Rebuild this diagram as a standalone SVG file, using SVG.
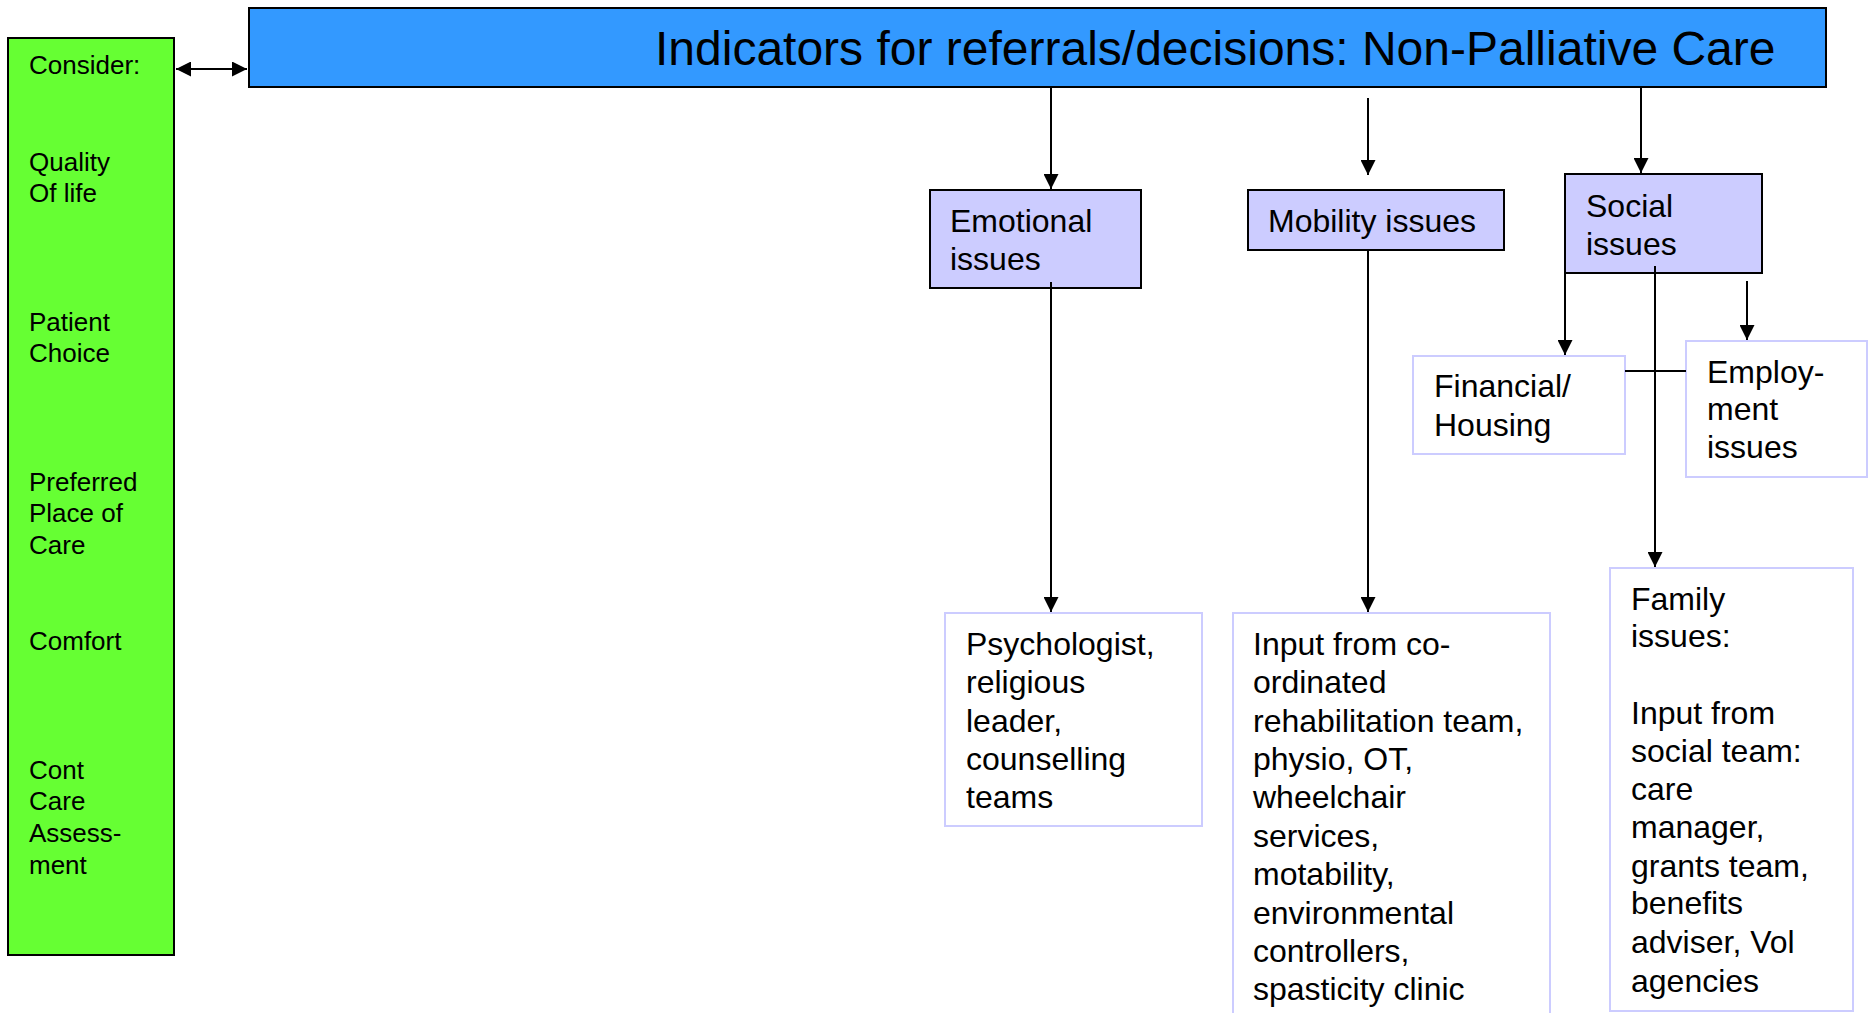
<svg xmlns="http://www.w3.org/2000/svg" width="1872" height="1013" viewBox="0 0 1872 1013">
<style>
text{font-family:"Liberation Sans",Arial,sans-serif;fill:#000}
.g{font-size:26px}
.m{font-size:32px}
.t{font-size:48px}
.dark{stroke:#000;stroke-width:2}
.light{fill:#fff;stroke:#ccccff;stroke-width:2}
.c{stroke:#000;stroke-width:2;fill:none}
</style>
<defs>
<marker id="ah" viewBox="0 0 10 10" refX="10" refY="5" markerWidth="15" markerHeight="15" markerUnits="userSpaceOnUse" orient="auto-start-reverse">
<path d="M0,0 L10,5 L0,10 z" fill="#000"/>
</marker>
</defs>
<rect width="1872" height="1013" fill="#fff"/>
<g id="consider">
<rect x="8" y="38" width="166" height="917" fill="#66ff33" class="dark" stroke-width="3"/>
<text class="g" x="29" y="74">Consider:</text>
<text class="g" x="29" y="171">Quality</text>
<text class="g" x="29" y="202">Of life</text>
<text class="g" x="29" y="331">Patient</text>
<text class="g" x="29" y="362">Choice</text>
<text class="g" x="29" y="491">Preferred</text>
<text class="g" x="29" y="522">Place of</text>
<text class="g" x="29" y="554">Care</text>
<text class="g" x="29" y="650">Comfort</text>
<text class="g" x="29" y="779">Cont</text>
<text class="g" x="29" y="810">Care</text>
<text class="g" x="29" y="842">Assess-</text>
<text class="g" x="29" y="874">ment</text>
</g>
<g id="title">
<rect x="249" y="8" width="1577" height="79" fill="#3399ff" class="dark"/>
<text class="t" x="655" y="65">Indicators for referrals/decisions: Non-Palliative Care</text>
</g>
<g id="emotional">
<rect x="930" y="190" width="211" height="98" fill="#ccccff" class="dark"/>
<text class="m" x="950" y="232">Emotional</text>
<text class="m" x="950" y="270">issues</text>
</g>
<g id="mobility">
<rect x="1248" y="190" width="256" height="60" fill="#ccccff" class="dark"/>
<text class="m" x="1268" y="232">Mobility issues</text>
</g>
<g id="social">
<rect x="1565" y="174" width="197" height="99" fill="#ccccff" class="dark"/>
<text class="m" x="1586" y="217">Social</text>
<text class="m" x="1586" y="255">issues</text>
</g>
<g id="financial">
<rect x="1413" y="356" width="212" height="98" class="light"/>
<text class="m" x="1434" y="397">Financial/</text>
<text class="m" x="1434" y="436">Housing</text>
</g>
<g id="employment">
<rect x="1686" y="341" width="181" height="136" class="light"/>
<text class="m" x="1707" y="383">Employ-</text>
<text class="m" x="1707" y="420">ment</text>
<text class="m" x="1707" y="458">issues</text>
</g>
<g id="psychologist">
<rect x="945" y="613" width="257" height="213" class="light"/>
<text class="m" x="966" y="655">Psychologist,</text>
<text class="m" x="966" y="693">religious</text>
<text class="m" x="966" y="732">leader,</text>
<text class="m" x="966" y="770">counselling</text>
<text class="m" x="966" y="808">teams</text>
</g>
<g id="rehab">
<rect x="1233" y="613" width="317" height="420" class="light"/>
<text class="m" x="1253" y="655">Input from co-</text>
<text class="m" x="1253" y="693">ordinated</text>
<text class="m" x="1253" y="732">rehabilitation team,</text>
<text class="m" x="1253" y="770">physio, OT,</text>
<text class="m" x="1253" y="808">wheelchair</text>
<text class="m" x="1253" y="847">services,</text>
<text class="m" x="1253" y="885">motability,</text>
<text class="m" x="1253" y="924">environmental</text>
<text class="m" x="1253" y="962">controllers,</text>
<text class="m" x="1253" y="1000">spasticity clinic</text>
</g>
<g id="family">
<rect x="1610" y="568" width="243" height="443" class="light"/>
<text class="m" x="1631" y="610">Family</text>
<text class="m" x="1631" y="647">issues:</text>
<text class="m" x="1631" y="724">Input from</text>
<text class="m" x="1631" y="762">social team:</text>
<text class="m" x="1631" y="800">care</text>
<text class="m" x="1631" y="838">manager,</text>
<text class="m" x="1631" y="877">grants team,</text>
<text class="m" x="1631" y="914">benefits</text>
<text class="m" x="1631" y="953">adviser, Vol</text>
<text class="m" x="1631" y="992">agencies</text>
</g>
<g id="connectors">
<line class="c" x1="176" y1="69" x2="247" y2="69" marker-start="url(#ah)" marker-end="url(#ah)"/>
<line class="c" x1="1051" y1="87" x2="1051" y2="189" marker-end="url(#ah)"/>
<line class="c" x1="1368" y1="98" x2="1368" y2="175" marker-end="url(#ah)"/>
<line class="c" x1="1641" y1="87" x2="1641" y2="173" marker-end="url(#ah)"/>
<line class="c" x1="1051" y1="282" x2="1051" y2="612" marker-end="url(#ah)"/>
<line class="c" x1="1368" y1="250" x2="1368" y2="612" marker-end="url(#ah)"/>
<line class="c" x1="1565" y1="266" x2="1565" y2="355" marker-end="url(#ah)"/>
<line class="c" x1="1655" y1="266" x2="1655" y2="567" marker-end="url(#ah)"/>
<line class="c" x1="1747" y1="281" x2="1747" y2="340" marker-end="url(#ah)"/>
<line class="c" x1="1625" y1="371" x2="1686" y2="371"/>
</g>
</svg>
